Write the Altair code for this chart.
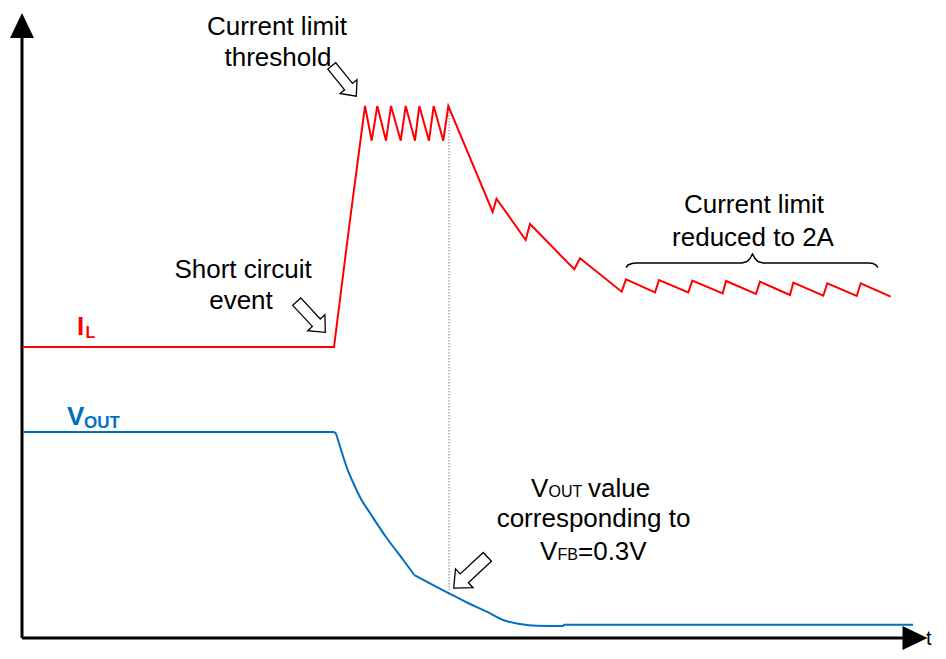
import altair as alt
import pandas as pd

# Drawing units: x = horizontal position, y = depth from top (schematic, no numeric axes)
# Inductor current I_L (red)
il_x = [23, 334, 350, 365, 371.7, 377.3, 386, 391, 400.7, 405.7, 415, 419.3, 429, 433.7, 443.3, 448.3,
        492.7, 496.5, 525.7, 530, 574.3, 580, 621.7, 626, 655, 659, 688.3, 692.3, 722.7, 726,
        756, 760, 790, 793.3, 823.3, 827.3, 856.7, 860.7, 890.7]
il_y = [347, 347, 220, 106, 140.7, 106, 140.7, 106, 140.7, 106, 140.7, 106, 140.7, 106, 140.7, 106,
        212, 198.7, 240, 224, 269.3, 258.3, 291.7, 279.3, 292.3, 280, 292.3, 280.7, 293.3, 281,
        294, 281.7, 295, 282.7, 295.7, 283.3, 296, 283.3, 296.7]

# Output voltage V_OUT (blue): smooth decay segment, then a straighter piece and the tail
vo1_x = [23, 333, 335.5, 338, 341.7, 347, 353.3, 361, 370, 386.7, 403.3, 414.3]
vo1_y = [432, 432, 433, 440, 452, 468, 483, 499, 513, 538, 560, 575]
vo2_x = [414.3, 449, 468, 486.7, 503, 520, 536.7, 563, 564, 913]
vo2_y = [575, 593.3, 603, 611.7, 620, 624, 625.7, 626, 624.7, 624.7]

# Curly brace over the reduced-limit ripple
br_x = [626, 628, 632, 636, 742, 747, 750, 752.5, 755, 758, 763, 869, 873, 876, 878]
br_y = [267.5, 265, 263.5, 263, 263, 261.5, 258.5, 254, 258.5, 261.5, 263, 263, 263.5, 265, 267.5]

# Axes (start/end points) and arrow heads
axis_x1 = [22, 22]
axis_y1 = [638, 638]
axis_x2 = [22, 906]
axis_y2 = [36, 638]
head_x = [22, 915]
head_y = [25.5, 638]
head_angle = [0, 90]

# Hollow block arrows: centre, direction (deg, clockwise from +x), length
arr_x = [311, 344, 470.5]
arr_y = [317, 81, 572.5]
arr_angle = [47, 51, 137]
arr_len = [42, 39, 46]

# Vertical dotted marker
mark_x = [449]
mark_y1 = [106]
mark_y2 = [594]

W, H = 930, 643
xs = alt.Scale(domain=[8, 8 + W], nice=False, zero=False)
ys = alt.Scale(domain=[8, 8 + H], nice=False, zero=False, reverse=True)

def X(f="x"):
    return alt.X(f"{f}:Q", scale=xs, axis=None)

def Y(f="y"):
    return alt.Y(f"{f}:Q", scale=ys, axis=None)

def line_df(xv, yv):
    return pd.DataFrame({"x": xv, "y": yv, "i": list(range(len(xv)))})

axes = alt.Chart(pd.DataFrame({"x": axis_x1, "y": axis_y1, "x2": axis_x2, "y2": axis_y2})).mark_rule(
    color="black", strokeWidth=3).encode(x=X(), y=Y(), x2="x2:Q", y2="y2:Q")

tri = "M 0 -1 L 0.96 1 L -0.96 1 Z"
heads = alt.Chart(pd.DataFrame({"x": head_x, "y": head_y, "a": head_angle})).mark_point(
    shape=tri, filled=True, color="black", size=625, opacity=1).encode(
    x=X(), y=Y(), angle=alt.Angle("a:Q", scale=None))

dotted = alt.Chart(pd.DataFrame({"x": mark_x, "y": mark_y1, "y2": mark_y2})).mark_rule(
    color="#808080", strokeWidth=1, strokeDash=[1.5, 1.5]).encode(x=X(), y=Y(), y2="y2:Q")

il = alt.Chart(line_df(il_x, il_y)).mark_line(color="#FF0000", strokeWidth=2).encode(
    x=X(), y=Y(), order="i:Q")
vo1 = alt.Chart(line_df(vo1_x, vo1_y)).mark_line(
    color="#0070C0", strokeWidth=2, interpolate="monotone").encode(x=X(), y=Y(), order="i:Q")
vo2 = alt.Chart(line_df(vo2_x, vo2_y)).mark_line(
    color="#0070C0", strokeWidth=2, interpolate="monotone").encode(x=X(), y=Y(), order="i:Q")
brace = alt.Chart(line_df(br_x, br_y)).mark_line(color="black", strokeWidth=1.5).encode(
    x=X(), y=Y(), order="i:Q")

block = "M -1 -0.26 L 0.37 -0.26 L 0.37 -0.56 L 1 0 L 0.37 0.56 L 0.37 0.26 L -1 0.26 Z"
arrows = alt.Chart(pd.DataFrame({"x": arr_x, "y": arr_y, "a": arr_angle,
                                 "s": [l * l for l in arr_len]})).mark_point(
    shape=block, filled=False, fill="white", fillOpacity=1, stroke="black", strokeWidth=1.3,
    opacity=1).encode(x=X(), y=Y(), angle=alt.Angle("a:Q", scale=None),
                      size=alt.Size("s:Q", scale=None))

FONT = "Liberation Sans"
texts = [
    # text, x, y(baseline), size, colour, align, weight
    ("Current limit", 277, 35, 26, "black", "center", "normal"),
    ("threshold", 278, 66, 26, "black", "center", "normal"),
    ("Short circuit", 243, 278, 26, "black", "center", "normal"),
    ("event", 241, 309, 26, "black", "center", "normal"),
    ("Current limit", 754, 213, 26, "black", "center", "normal"),
    ("reduced to 2A", 753, 246, 26, "black", "center", "normal"),
    ("V", 531, 497, 26, "black", "left", "normal"),
    ("OUT", 548.5, 497, 16, "black", "left", "normal"),
    ("value", 588, 497, 26, "black", "left", "normal"),
    ("corresponding to", 593.5, 527, 26, "black", "center", "normal"),
    ("V", 540, 560, 26, "black", "left", "normal"),
    ("FB", 557.5, 560, 16, "black", "left", "normal"),
    ("=0.3V", 578, 560, 26, "black", "left", "normal"),
    ("I", 77, 335, 26, "#FF0000", "left", "bold"),
    ("L", 85.5, 338, 16, "#FF0000", "left", "bold"),
    ("V", 67, 425, 26, "#0070C0", "left", "bold"),
    ("OUT", 84, 428, 17, "#0070C0", "left", "bold"),
    ("t", 926, 645, 20, "black", "left", "normal"),
]

text_layers = []
for t, x, y, s, c, a, w in texts:
    text_layers.append(
        alt.Chart(pd.DataFrame({"x": [x], "y": [y], "t": [t]})).mark_text(
            font=FONT, fontSize=s, color=c, align=a, baseline="alphabetic", fontWeight=w
        ).encode(x=X(), y=Y(), text="t:N")
    )

chart = alt.layer(axes, heads, dotted, il, vo1, vo2, brace, arrows, *text_layers).properties(
    width=W, height=H, padding=0, autosize=alt.AutoSizeParams(type="none"),
    background="white"
).configure_view(stroke=None)

chart.save("out.html", embed_options={"renderer": "svg", "actions": False})
